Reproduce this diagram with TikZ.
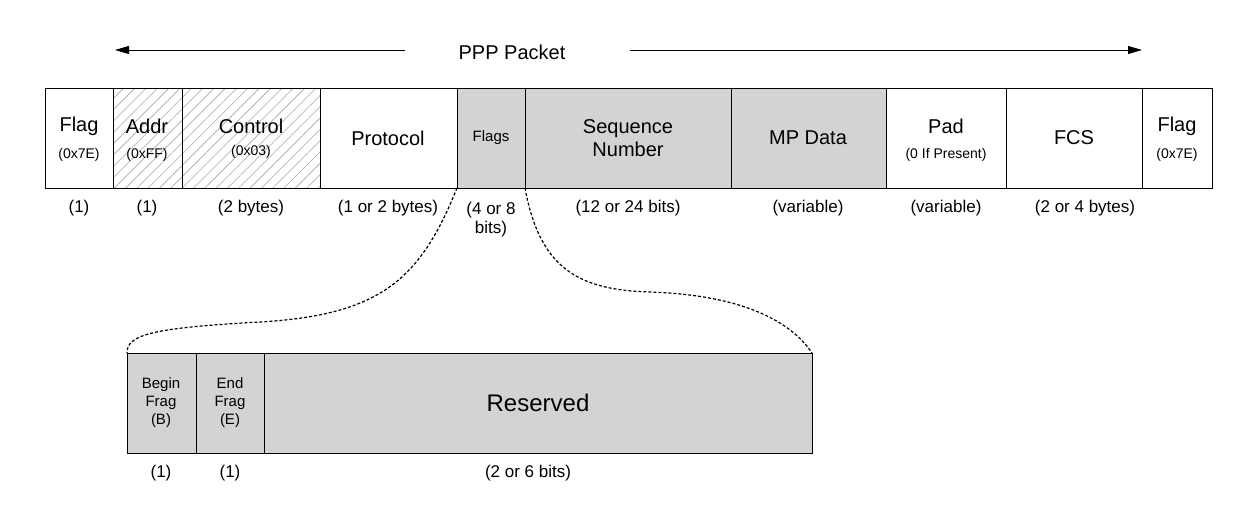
\documentclass[tikz,border=0pt]{standalone}
\usepackage{fontspec}
\setmainfont{Liberation Sans}
\usetikzlibrary{patterns.meta,arrows.meta}
\definecolor{gf}{HTML}{D3D3D3}
\begin{document}
\begin{tikzpicture}[x=1pt,y=-1pt,
 box/.style={draw,line width=0.8pt},
 big/.style={font=\fontsize{20}{23}\selectfont,align=center},
 sm/.style={font=\fontsize{14}{17}\selectfont,align=center},
 lab/.style={font=\fontsize{17}{19}\selectfont,align=center},
 hatch/.style={pattern={Lines[distance=8pt,angle=45,line width=0.6pt]},pattern color=gray!70}]
\useasboundingbox (0,0) rectangle (1258,506);
% top row
\draw[box] (45,88) rectangle (1212,188);
\fill[hatch] (113,88) rectangle (320,188);
\fill[gf] (457,88) rectangle (886,188);
\draw[box] (45,88) rectangle (1212,188);
\foreach \x in {113,182,320,457,525,731,886,1006,1142} \draw[box] (\x,88) -- (\x,188);
\node[big] (flag1) at (79,126) {Flag};
\node[sm] (flag1s) at (79,155) {(0x7E)};
\node[big] (addr) at (147,126) {Addr};
\node[sm] (addrs) at (147,155) {(0xFF)};
\node[big] (ctrl) at (251,126) {Control};
\node[sm] (ctrls) at (251,152) {(0x03)};
\node[big] (proto) at (388,138) {Protocol};
\node[sm,font=\fontsize{15}{17}\selectfont] (flags) at (491,138) {Flags};
\node[big] (seq) at (628,138) {Sequence\\Number};
\node[big] (mp) at (808,138) {MP Data};
\node[big] (pad) at (946,126) {Pad};
\node[sm] (pads) at (946,155) {(0 If Present)};
\node[big] (fcs) at (1074,138) {FCS};
\node[big] (flag2) at (1177,126) {Flag};
\node[sm] (flag2s) at (1177,155) {(0x7E)};
% sizes
\foreach \x/\t/\n in {79/(1)/a,147/(1)/b,251/(2 bytes)/c,388/(1 or 2 bytes)/d,628/(12 or 24 bits)/e,808/(variable)/f,946/(variable)/g,1085/(2 or 4 bytes)/h}
  \node[lab] (s\n) at (\x,208) {\t};
\node[lab] (sflags) at (491,220) {(4 or 8\\bits)};
% title arrow
\node[big] (title) at (512,52) {PPP Packet};
\coordinate (la) at (115,50); \coordinate (ra) at (1142,50);
\draw[line width=0.8pt,-{Triangle[length=14pt,width=8pt]}] (405,50) -- (la);
\draw[line width=0.8pt,-{Triangle[length=14pt,width=8pt]}] (630,50) -- (ra);
% bottom row
\fill[gf] (127,353) rectangle (812,453);
\draw[box] (127,353) rectangle (812,453);
\draw[box] (196,353) -- (196,453); \draw[box] (264,353) -- (264,453);
\node[sm,font=\fontsize{15}{18}\selectfont] (bf) at (161,403) {Begin\\Frag\\(B)};
\node[sm,font=\fontsize{15}{18}\selectfont] (ef) at (230,403) {End\\Frag\\(E)};
\node[big,font=\fontsize{24}{28}\selectfont] (res) at (538,403) {Reserved};
\node[lab] (b1) at (161,473) {(1)};
\node[lab] (b2) at (230,473) {(1)};
\node[lab] (b3) at (528,473) {(2 or 6 bits)};
% dotted curves
\coordinate (t1) at (457,188); \coordinate (t2) at (525,188);
\coordinate (b1c) at (127,353); \coordinate (b2c) at (812,353);
\draw[dashed,dash pattern=on 3pt off 2pt,line width=1.2pt] (t1) .. controls (420,280) and (380,315) .. (260,322) .. controls (150,328) and (127,335) .. (b1c);
\draw[dashed,dash pattern=on 3pt off 2pt,line width=1.2pt] (t2) .. controls (540,270) and (580,290) .. (650,292) .. controls (740,295) and (790,320) .. (b2c);
\end{tikzpicture}
\end{document}
